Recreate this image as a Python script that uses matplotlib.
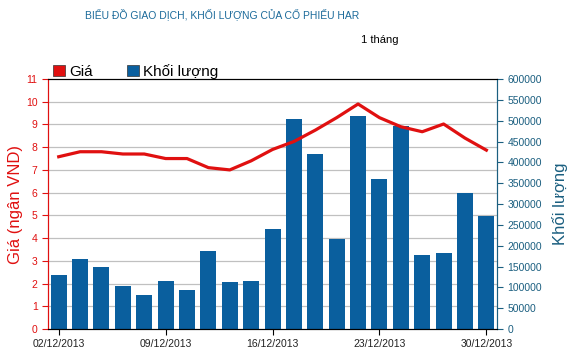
import numpy as np
import matplotlib
matplotlib.use('Agg')
import matplotlib.pyplot as plt
from matplotlib.patches import Patch

plt.rcParams['font.family'] = ['Liberation Sans', 'DejaVu Sans']

# data
dates = ['02/12/2013', '09/12/2013', '16/12/2013', '23/12/2013', '30/12/2013']
date_pos = [0, 5, 10, 15, 20]
price = [7.58, 7.8, 7.8, 7.7, 7.7, 7.5, 7.5, 7.1, 7.0, 7.4, 7.9,
         8.25, 8.75, 9.3, 9.9, 9.3, 8.9, 8.68, 9.02, 8.4, 7.87]
volume = [130000, 168000, 149000, 103000, 82000, 115000, 94000, 187000, 113000, 115000, 240000,
          504000, 420000, 216000, 511000, 360000, 487000, 178000, 182000, 327000, 271000]

red = '#e01010'
blue = '#0a5f9e'
teal = '#1b5f80'

x = np.arange(len(price))

fig = plt.figure(figsize=(5.8, 3.57), dpi=100)
ax = fig.add_axes([0.0828, 0.0784, 0.7742, 0.7003])
ax2 = ax.twinx()

# khoi luong (bars) on right axis, drawn behind the line
ax2.bar(x, volume, width=0.75, color=blue, zorder=2)
ax2.set_ylim(0, 600000)
ax2.set_yticks(np.arange(0, 600001, 50000))
ax2.tick_params(axis='y', colors=teal, labelsize=7.5, length=4, width=0.8)
ax2.set_ylabel('Khối lượng', color=teal, fontsize=12, labelpad=7)

ax.set_zorder(ax2.get_zorder() + 1)
ax.patch.set_visible(False)
ax.plot(x, price, color=red, lw=2.3, zorder=5)
ax.set_ylim(0, 11)
ax.set_yticks(range(0, 12))
ax.tick_params(axis='y', colors=red, labelsize=7.5, length=4, width=0.8)
ax.set_ylabel('Giá (ngân VND)', color=red, fontsize=12, labelpad=2)
ax.set_xlim(-0.5, 20.5)
ax.set_xticks(date_pos)
ax.set_xticklabels(dates)
ax.tick_params(axis='x', colors='black', labelsize=7.5, length=4, width=0.8)
ax.tick_params(axis='x', labelcolor='#222222')

# grid lines behind bars
for v in range(1, 11):
    ax2.axhline(v * 600000 / 11, color='#c0c0c0', lw=0.9, zorder=1)

for a in (ax, ax2):
    a.spines['top'].set_color('black')
    a.spines['bottom'].set_color('black')
    a.spines['left'].set_color(red)
    a.spines['right'].set_color(teal)

fig.text(0.383, 0.96, 'BIỂU ĐỒ GIAO DỊCH, KHỐI LƯỢNG CỦA CỔ PHIẾU HAR',
         color='#1b6a9a', fontsize=7.5, ha='center', va='center')
fig.text(0.655, 0.888, '1 tháng', color='black', fontsize=8, ha='center', va='center')

handles = [Patch(facecolor=red, edgecolor='#333333', lw=0.5),
           Patch(facecolor=blue, edgecolor='#333333', lw=0.5)]
fig.legend(handles, ['Giá', 'Khối lượng'], loc='center left', bbox_to_anchor=(0.08, 0.8),
           ncol=2, frameon=False, fontsize=11, handlelength=0.8, handleheight=0.8,
           handletextpad=0.3, columnspacing=2.2, borderaxespad=0)

fig.savefig('out.png', dpi=100)
